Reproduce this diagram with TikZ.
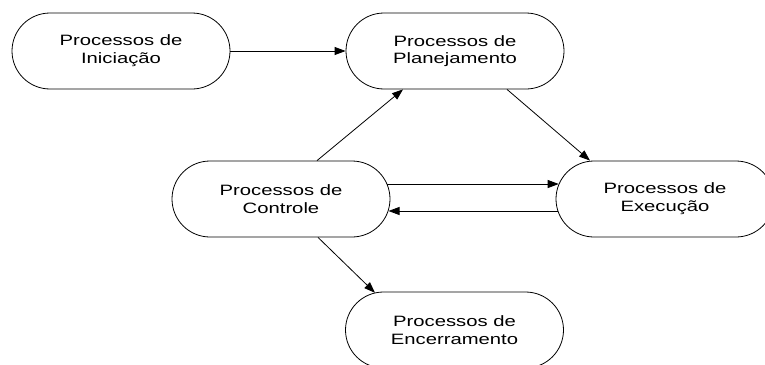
\documentclass[tikz,border=0pt]{standalone}
\usepackage{fontspec}
\setmainfont{Liberation Sans}[FakeStretch=1.35]
\usetikzlibrary{shapes.misc,arrows.meta,calc}
\begin{document}
\begin{tikzpicture}[x=1pt,y=-1pt,
  proc/.style={draw, line width=0.8pt, rounded rectangle, minimum width=218pt,
    minimum height=76pt, inner sep=0pt, align=center,
    font=\fontsize{15}{17.7}\selectfont},
  arr/.style={-{Triangle[length=11pt,width=8pt]}, line width=0.8pt}]
\useasboundingbox (0,0) rectangle (765,364);

% process groups
\node[proc] (ini)  at (121,51)   {Processos de\\Iniciação};
\node[proc] (plan) at (455,51)   {Processos de\\Planejamento};
\node[proc] (ctrl) at (281,199)  {Processos de\\Controle};
\node[proc] (exec) at (665,199)  {Processos de\\Execução};
\node[proc] (enc)  at (454.5,330) {Processos de\\Encerramento};

% flows between the groups
\draw[arr] (ini.east) -- (plan.west);
\draw[arr] ($(ctrl.north)+(36,0)$) -- ($(plan.south)+(-52,0)$);
\draw[arr] ($(plan.south)+(52,0)$) -- ($(exec.north)+(-75,0)$);
\draw[arr] ($(ctrl.east)+(-3.1,-15)$) -- ($(exec.west)+(3.1,-15)$);
\draw[arr] ($(exec.west)+(1.9,12)$) -- ($(ctrl.east)+(-1.9,12)$);
\draw[arr] ($(ctrl.south)+(37,0)$) -- ($(enc.north)+(-79.5,1.2)$);
\end{tikzpicture}
\end{document}
